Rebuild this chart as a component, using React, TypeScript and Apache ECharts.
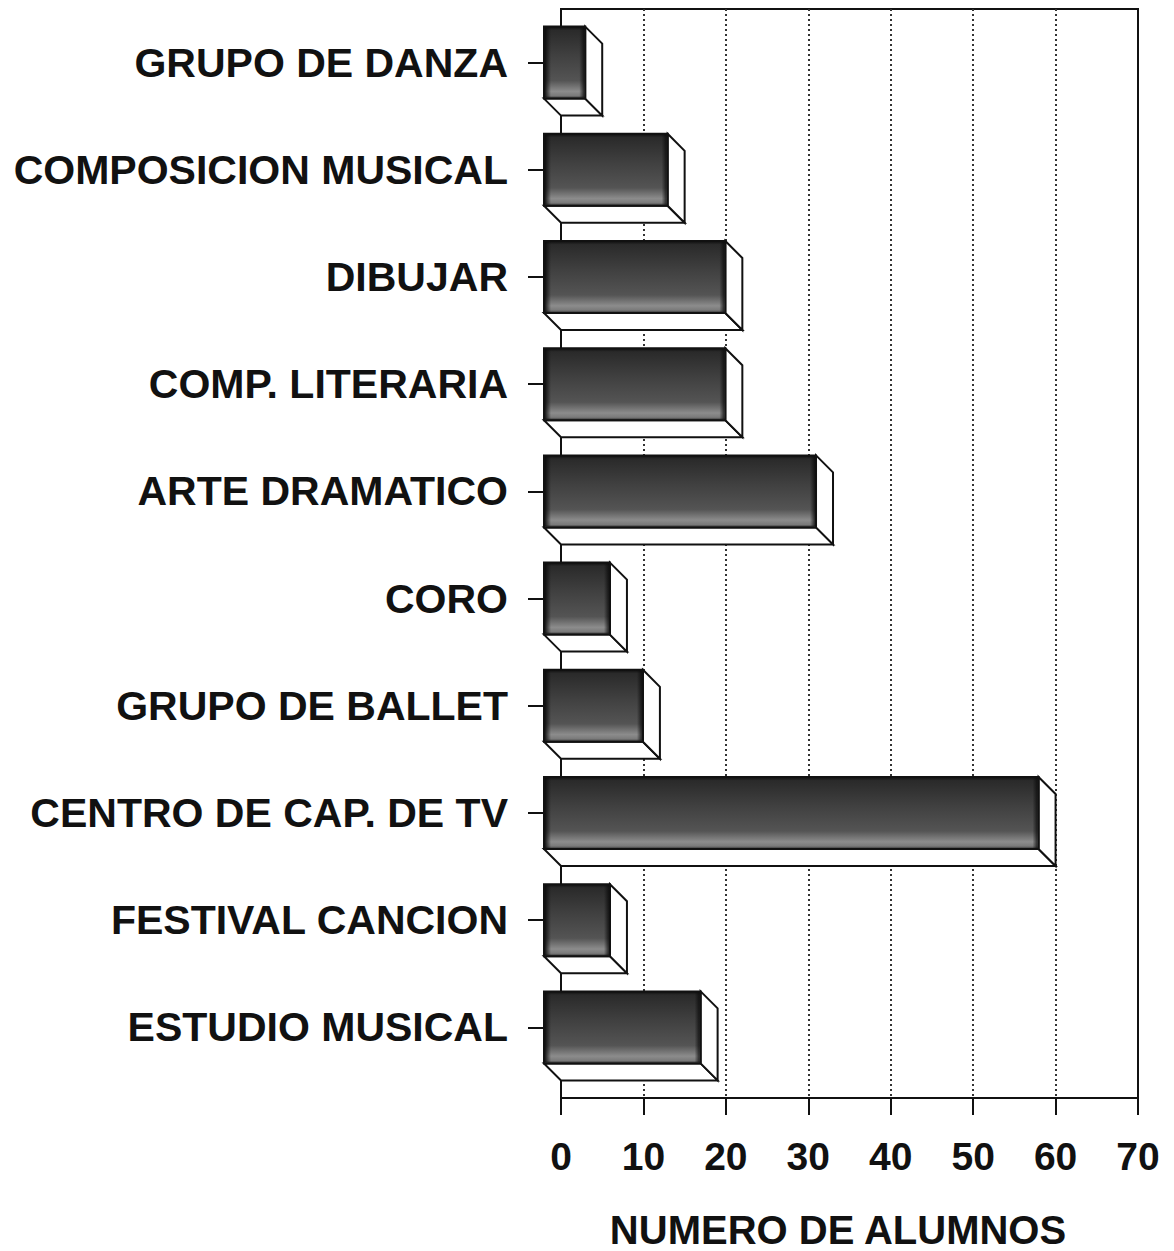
import React, { useEffect, useRef } from "react";
import * as echarts from "echarts";

const categories = [
  "GRUPO DE DANZA",
  "COMPOSICION MUSICAL",
  "DIBUJAR",
  "COMP. LITERARIA",
  "ARTE DRAMATICO",
  "CORO",
  "GRUPO DE BALLET",
  "CENTRO DE CAP. DE TV",
  "FESTIVAL CANCION",
  "ESTUDIO MUSICAL",
];
const values = [5, 15, 22, 22, 33, 8, 12, 60, 8, 19];
const xMin = 0;
const xMax = 70;
const xInterval = 10;
const axisTitle = "NUMERO DE ALUMNOS";

const FONT = "'Liberation Sans', Arial, Helvetica, sans-serif";
const INK = "#111";

export default function App() {
  const ref = useRef<HTMLDivElement>(null);

  useEffect(() => {
    if (!ref.current) return;
    document.body.style.margin = "0";
    const chart = echarts.init(ref.current, null, { renderer: "svg" });
    const depth = 17;
    const barH = 72;

    const option: any = {
      animation: false,
      backgroundColor: "#fff",
      grid: [
        {
          left: 561,
          top: 9,
          width: 577,
          height: 1089,
          show: true,
          borderColor: INK,
          borderWidth: 2,
          backgroundColor: "transparent",
        },
        { left: 561, top: 9, width: 577, height: 1072 },
      ],
      xAxis: [
        {
          gridIndex: 0,
          type: "value",
          min: xMin,
          max: xMax,
          interval: xInterval,
          axisLine: { show: true, lineStyle: { color: INK, width: 2 } },
          axisTick: { show: true, length: 17, lineStyle: { color: INK, width: 2 } },
          axisLabel: {
            color: INK,
            fontSize: 39,
            fontWeight: "bold",
            fontFamily: FONT,
            margin: 39,
          },
          splitLine: {
            show: true,
            showMinLine: false,
            showMaxLine: false,
            lineStyle: { type: [2, 3], color: "#333", width: 2 },
          },
        },
        { gridIndex: 1, type: "value", min: xMin, max: xMax, show: false },
      ],
      yAxis: [
        { gridIndex: 0, type: "value", show: false, min: 0, max: 1 },
        {
          gridIndex: 1,
          type: "category",
          data: categories,
          inverse: true,
          axisLine: { show: false },
          axisTick: {
            show: true,
            alignWithLabel: true,
            length: 33,
            lineStyle: { color: INK, width: 2 },
          },
          axisLabel: {
            color: INK,
            fontSize: 41,
            fontWeight: "bold",
            fontFamily: FONT,
            margin: 53,
            padding: [6, 0, 0, 0],
          },
          splitLine: { show: false },
        },
      ],
      graphic: [
        {
          type: "text",
          x: 838,
          y: 1230,
          style: {
            text: axisTitle,
            fill: INK,
            fontSize: 40,
            lineHeight: 30,
            fontWeight: "bold",
            fontFamily: FONT,
            align: "center",
            verticalAlign: "middle",
          },
        },
      ],
      series: [
        {
          type: "custom",
          xAxisIndex: 1,
          yAxisIndex: 1,
          data: values.map((v, i) => [v, i]),
          encode: { x: 0, y: 1 },
          renderItem: (params: any, api: any) => {
            const v = api.value(0);
            const i = api.value(1);
            const p0 = api.coord([0, i]);
            const p1 = api.coord([v, i]);
            const xl = p0[0] - depth;
            const xr = p1[0] - depth;
            const yt = p0[1] - barH / 2;
            const yb = p0[1] + barH / 2;
            const edge = { stroke: INK, lineWidth: 2, lineJoin: "miter" };
            return {
              type: "group",
              children: [
                {
                  type: "polygon",
                  shape: {
                    points: [
                      [xl, yb],
                      [xr, yb],
                      [xr + depth, yb + depth],
                      [xl + depth, yb + depth],
                    ],
                  },
                  style: { fill: "#fff", ...edge },
                },
                {
                  type: "polygon",
                  shape: {
                    points: [
                      [xr, yt],
                      [xr + depth, yt + depth],
                      [xr + depth, yb + depth],
                      [xr, yb],
                    ],
                  },
                  style: { fill: "#fff", ...edge },
                },
                {
                  type: "rect",
                  shape: { x: xl, y: yt, width: xr - xl, height: barH },
                  style: {
                    fill: new echarts.graphic.LinearGradient(0, 0, 0, 1, [
                      { offset: 0, color: "#0e0e0e" },
                      { offset: 0.05, color: "#2a2a2a" },
                      { offset: 0.4, color: "#404040" },
                      { offset: 0.75, color: "#545454" },
                      { offset: 0.9, color: "#8c8c8c" },
                      { offset: 0.96, color: "#7a7a7a" },
                      { offset: 1, color: "#2a2a2a" },
                    ]),
                    ...edge,
                  },
                },
                {
                  type: "rect",
                  shape: { x: xl + 1, y: yt + 1, width: 6, height: barH - 2 },
                  style: {
                    fill: new echarts.graphic.LinearGradient(0, 0, 1, 0, [
                      { offset: 0, color: "rgba(10,10,10,0.9)" },
                      { offset: 1, color: "rgba(10,10,10,0)" },
                    ]),
                  },
                },
                {
                  type: "rect",
                  shape: { x: xr - 6, y: yt + 1, width: 5, height: barH - 2 },
                  style: {
                    fill: new echarts.graphic.LinearGradient(0, 0, 1, 0, [
                      { offset: 0, color: "rgba(10,10,10,0)" },
                      { offset: 1, color: "rgba(10,10,10,0.8)" },
                    ]),
                  },
                },
              ],
            };
          },
        },
      ],
    };

    chart.setOption(option);
    return () => chart.dispose();
  }, []);

  return <div ref={ref} style={{ width: 1174, height: 1251 }} />;
}
